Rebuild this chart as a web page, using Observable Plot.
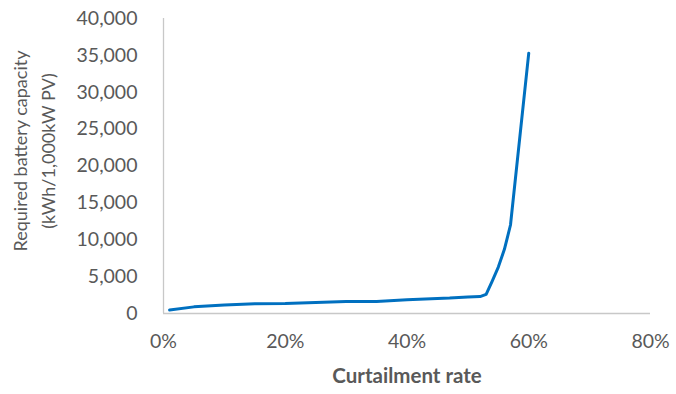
<!DOCTYPE html>
<html><head><meta charset="utf-8">
<script src="https://cdn.jsdelivr.net/npm/d3@7"></script>
<script src="https://cdn.jsdelivr.net/npm/@observablehq/plot@0.6"></script>
<style>body{margin:0;background:#fff;} #chart svg{display:block;}</style>
</head><body><div id="chart"></div>
<script>
const curtailmentRate = [0.01, 0.05, 0.10, 0.15, 0.20, 0.25, 0.30, 0.35, 0.40, 0.45, 0.47, 0.50, 0.52, 0.53, 0.54, 0.55, 0.56, 0.57, 0.60];
const batteryCapacity = [480, 900, 1150, 1320, 1350, 1480, 1620, 1640, 1850, 2050, 2100, 2250, 2300, 2600, 4400, 6300, 8700, 12000, 35300];
const xTicks = [0, 0.2, 0.4, 0.6, 0.8];
const yTicks = [0, 5000, 10000, 15000, 20000, 25000, 30000, 35000, 40000];
const xTitle = "Curtailment rate";
const yTitleLines = ["Required battery capacity", "(kWh/1,000kW PV)"];

const data = curtailmentRate.map((x, i) => ({x, y: batteryCapacity[i]}));

const chart = Plot.plot({
  width: 676, height: 394,
  marginLeft: 163, marginRight: 26, marginTop: 18, marginBottom: 81,
  style: {fontFamily: "Lato, sans-serif", background: "#fff", overflow: "visible"},
  x: {domain: [0, 0.8]},
  y: {domain: [0, 40000]},
  marks: [
    Plot.ruleY([0], {stroke: "#c8c8c8", strokeWidth: 1.3}),
    Plot.ruleX([0], {stroke: "#c8c8c8", strokeWidth: 1.3}),
    Plot.axisX({ticks: xTicks, tickFormat: d => Math.round(d * 100) + "%", tickSize: 0, tickPadding: 21, fontSize: 19.5, fill: "#595959", label: null}),
    Plot.axisY({ticks: yTicks, tickFormat: d3.format(","), tickSize: 0, tickPadding: 26, fontSize: 19.5, fill: "#595959", label: null}),
    Plot.line(data, {x: "x", y: "y", stroke: "#0070C0", strokeWidth: 3}),
    Plot.text([xTitle], {frameAnchor: "bottom", dy: 69, fontSize: 20.5, fontWeight: "bold", fill: "#595959"}),
    Plot.text([yTitleLines.join("\n")], {frameAnchor: "left", textAnchor: "middle", dx: -131, dy: -15, rotate: -90, fontSize: 18, lineHeight: 1.55, fill: "#595959"})
  ]
});
document.getElementById("chart").append(chart);
</script>
</body></html>
